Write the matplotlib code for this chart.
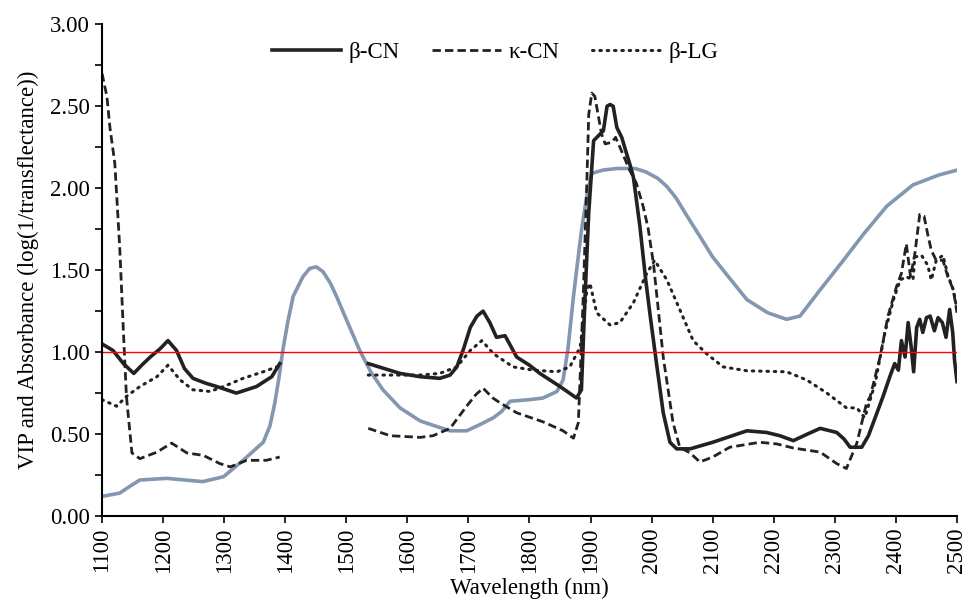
import numpy as np
import matplotlib
matplotlib.use('Agg')
import matplotlib.pyplot as plt
from matplotlib.ticker import MultipleLocator, FormatStrFormatter

nan = np.nan

# Absorbance spectrum (blue-grey line)
abs_wl = [1100, 1129, 1145, 1162, 1206, 1265, 1299, 1331, 1364, 1375, 1383, 1390, 1396,
          1404, 1413, 1429, 1440, 1451, 1462, 1474, 1484, 1500, 1522, 1540, 1560, 1588,
          1621, 1645, 1670, 1697, 1720, 1741, 1755, 1768, 1800, 1822, 1845, 1855, 1863,
          1872, 1885, 1895, 1902, 1920, 1943, 1973, 1990, 2010, 2025, 2040, 2058, 2080,
          2100, 2130, 2156, 2190, 2221, 2243, 2276, 2314, 2347, 2385, 2428, 2470, 2500]
abs_val = [0.12, 0.14, 0.18, 0.22, 0.23, 0.21, 0.24, 0.34, 0.45, 0.55, 0.69, 0.85, 1.01,
           1.18, 1.34, 1.46, 1.51, 1.52, 1.49, 1.42, 1.34, 1.20, 1.01, 0.88, 0.77, 0.66,
           0.58, 0.55, 0.52, 0.52, 0.56, 0.60, 0.64, 0.70, 0.71, 0.72, 0.76, 0.83, 1.02,
           1.34, 1.74, 1.98, 2.09, 2.11, 2.12, 2.12, 2.10, 2.06, 2.01, 1.94, 1.83, 1.70,
           1.58, 1.44, 1.32, 1.24, 1.20, 1.22, 1.38, 1.56, 1.72, 1.89, 2.02, 2.08, 2.11]

# beta-casein VIP
bcn_wl = [1100, 1118, 1135, 1152, 1165, 1179, 1195, 1208, 1222, 1235, 1249, 1270, 1288,
          1320, 1353, 1378, 1391,
          1460,
          1536, 1588, 1621, 1653, 1670, 1681, 1692, 1703, 1714, 1724, 1735, 1746, 1760,
          1779, 1800, 1817, 1850, 1877, 1885, 1891, 1897, 1905, 1913, 1921, 1927, 1932,
          1937, 1943, 1951, 1959, 1964, 1970, 1975, 1981, 1990, 1997, 2008, 2019, 2030,
          2041, 2063, 2100, 2156, 2188, 2210, 2232, 2255, 2276, 2303, 2315, 2325, 2344,
          2355, 2363, 2369, 2379, 2390, 2398, 2404, 2409, 2415, 2420, 2425, 2429, 2434,
          2439, 2444, 2450, 2456, 2463, 2469, 2476, 2482, 2488, 2493, 2496, 2500]
bcn_val = [1.05, 1.01, 0.93, 0.87, 0.92, 0.97, 1.02, 1.07, 1.01, 0.90, 0.84, 0.81, 0.79,
           0.75, 0.79, 0.85, 0.93,
           nan,
           0.93, 0.87, 0.85, 0.84, 0.86, 0.91, 1.02, 1.15, 1.22, 1.25, 1.18, 1.09, 1.10,
           0.97, 0.92, 0.87, 0.79, 0.72, 0.77, 1.34, 1.85, 2.29, 2.32, 2.35, 2.50, 2.51,
           2.50, 2.37, 2.31, 2.21, 2.15, 2.07, 1.93, 1.76, 1.45, 1.24, 0.93, 0.63, 0.45,
           0.41, 0.41, 0.45, 0.52, 0.51, 0.49, 0.46, 0.50, 0.535, 0.51, 0.47, 0.42, 0.42,
           0.49, 0.57, 0.63, 0.73, 0.85, 0.93, 0.89, 1.07, 0.97, 1.18, 1.03, 0.88, 1.15,
           1.20, 1.12, 1.21, 1.22, 1.13, 1.21, 1.18, 1.09, 1.26, 1.12, 0.95, 0.82]

# kappa-casein VIP
kcn_wl = [1100, 1108, 1113, 1121, 1129, 1135, 1140, 1149, 1162, 1190, 1214, 1239, 1266,
          1293, 1310, 1337, 1369, 1391,
          1460,
          1536, 1572, 1621, 1642, 1670, 1697, 1712, 1724, 1740, 1752, 1779, 1822, 1855,
          1872, 1880, 1888, 1894, 1897, 1902, 1907, 1918, 1924, 1935, 1941, 1948, 1964,
          1975, 1986, 1994, 2003, 2019, 2035, 2046, 2063, 2079, 2100, 2128, 2177, 2205,
          2232, 2276, 2303, 2319, 2336, 2352, 2358, 2374, 2387, 2401, 2409, 2417, 2424,
          2431, 2439, 2446, 2452, 2458, 2466, 2477, 2485, 2494, 2500]
kcn_val = [2.70, 2.56, 2.37, 2.15, 1.64, 1.13, 0.73, 0.385, 0.35, 0.39, 0.445, 0.385, 0.37,
           0.32, 0.30, 0.34, 0.34, 0.36,
           nan,
           0.535, 0.49, 0.48, 0.49, 0.535, 0.67, 0.74, 0.78, 0.72, 0.69, 0.63, 0.575, 0.52,
           0.475, 0.57, 1.34, 2.05, 2.45, 2.58, 2.56, 2.33, 2.27, 2.28, 2.31, 2.25, 2.11,
           2.03, 1.89, 1.76, 1.54, 0.97, 0.57, 0.42, 0.385, 0.33, 0.36, 0.42, 0.45, 0.44,
           0.415, 0.39, 0.32, 0.29, 0.445, 0.69, 0.73, 0.97, 1.22, 1.40, 1.48, 1.66, 1.46,
           1.60, 1.84, 1.83, 1.72, 1.62, 1.56, 1.56, 1.46, 1.38, 1.24]

# beta-lactoglobulin VIP
blg_wl = [1100, 1124, 1140, 1162, 1190, 1208, 1228, 1249, 1277, 1299, 1331, 1364, 1386,
          1460,
          1536, 1621, 1653, 1681, 1703, 1722, 1741, 1773, 1806, 1845, 1866, 1883, 1894,
          1899, 1910, 1932, 1948, 1970, 1992, 2005, 2025, 2046, 2068, 2090, 2117, 2156,
          2221, 2254, 2287, 2319, 2336, 2349, 2366, 2382, 2396, 2407, 2417, 2428, 2431,
          2442, 2452, 2458, 2466, 2477, 2485, 2494, 2499]
blg_val = [0.71, 0.67, 0.73, 0.79, 0.85, 0.92, 0.83, 0.77, 0.76, 0.79, 0.84, 0.88, 0.91,
           nan,
           0.86, 0.86, 0.87, 0.91, 1.01, 1.07, 0.99, 0.91, 0.89, 0.88, 0.91, 1.03, 1.38,
           1.42, 1.24, 1.165, 1.18, 1.30, 1.48, 1.56, 1.44, 1.26, 1.07, 0.99, 0.91, 0.886,
           0.88, 0.83, 0.75, 0.66, 0.66, 0.60, 0.81, 1.12, 1.32, 1.44, 1.46, 1.44, 1.58,
           1.59, 1.53, 1.44, 1.56, 1.59, 1.47, 1.38, 1.28]

threshold = 1.0

plt.rcParams['font.family'] = ['Liberation Serif', 'DejaVu Serif']
plt.rcParams['font.size'] = 16.5

fig = plt.figure(figsize=(9.65, 6.05), dpi=100)
ax = fig.add_axes([0.1057, 0.147, 0.886, 0.813])

ax.plot(abs_wl, abs_val, color='#8497B0', lw=2.6, solid_joinstyle='round',
        solid_capstyle='round')
ax.plot(bcn_wl, bcn_val, color='#222222', lw=2.6, solid_joinstyle='round', label='β-CN')
ax.plot(kcn_wl, kcn_val, color='#222222', lw=2.0, dashes=(3.0, 1.5), label='κ-CN')
ax.plot(blg_wl, blg_val, color='#222222', lw=2.2, dashes=(0.5, 1.9),
        dash_capstyle='round', label='β-LG')
ax.axhline(threshold, color='#ff0000', lw=1.0)

ax.set_xlim(1100, 2500)
ax.set_ylim(0, 3)
ax.xaxis.set_major_locator(MultipleLocator(100))
ax.yaxis.set_major_locator(MultipleLocator(0.5))
ax.yaxis.set_minor_locator(MultipleLocator(0.25))
ax.yaxis.set_major_formatter(FormatStrFormatter('%.2f'))
ax.tick_params(axis='both', which='both', direction='out', length=5, width=1.2, color='black')
ax.tick_params(axis='x', labelrotation=90)

for side in ['top', 'right']:
    ax.spines[side].set_visible(False)
for side in ['left', 'bottom']:
    ax.spines[side].set_linewidth(1.5)

ax.set_xlabel('Wavelength (nm)', labelpad=3)
ax.set_ylabel('VIP and Absorbance (log(1/transflectance))', labelpad=8)

ax.legend(loc='center', bbox_to_anchor=(0.46, 0.943), ncol=3, frameon=False,
          handlelength=3.0, handletextpad=0.35, columnspacing=1.4, fontsize=16.5)

fig.savefig('out.png', dpi=100)
